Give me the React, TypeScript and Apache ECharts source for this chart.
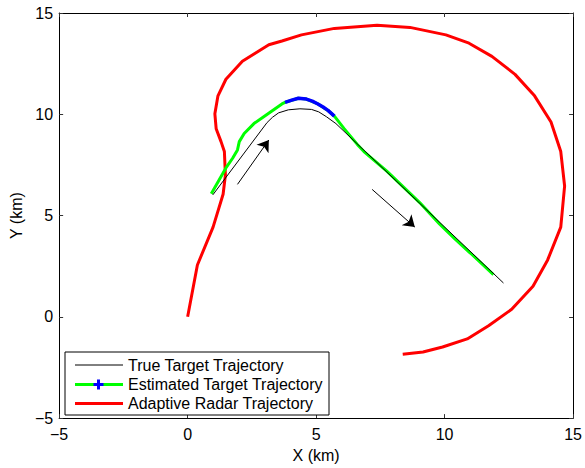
import React, { useEffect, useRef } from "react";
import * as echarts from "echarts";

// Adaptive radar trajectory (km)
const radarX = [0, 0.38, 0.99, 1.38, 1.47, 1.43, 1.3, 1.11, 1.06, 1.18, 1.49, 2.13, 3.16, 3.67, 4.43, 5.71, 7.37, 8.65, 10.05, 10.95, 11.84, 12.74, 13.5, 14.14, 14.52, 14.67, 14.52, 14.01, 13.44, 12.61, 11.71, 10.88, 9.92, 9.16, 8.37];
const radarY = [0, 2.56, 4.43, 6.05, 7.0, 8.16, 8.65, 9.29, 10.02, 10.91, 11.73, 12.62, 13.43, 13.62, 13.92, 14.24, 14.4, 14.29, 13.92, 13.51, 12.86, 11.97, 10.91, 9.62, 8.16, 6.46, 4.43, 2.81, 1.51, 0.37, -0.44, -1.09, -1.49, -1.74, -1.85];

// True target trajectory
const trueX = [0.98, 3.09, 3.3, 3.54, 3.92, 4.37, 4.82, 5.1, 5.4, 5.77, 12.29];
const trueY = [6.02, 9.59, 9.85, 10.07, 10.22, 10.27, 10.24, 10.12, 9.88, 9.54, 1.67];

// Estimated target trajectory (green parts)
const estX = [0.92, 1.49, 1.75, 1.94, 2.01, 2.2, 2.58, 3.03, 3.67, 3.79, 4.31, 4.62, 5.07, 5.46, 5.71, 6.09, 6.61, 6.86, 7.75, 9.03, 9.8, 10.4, 11.0, 11.9];
const estY = [6.08, 7.35, 7.83, 8.24, 8.65, 9.05, 9.54, 9.94, 10.51, 10.59, 10.79, 10.75, 10.51, 10.19, 9.91, 9.29, 8.5, 8.16, 7.19, 5.64, 4.59, 3.85, 3.15, 2.08];
// Estimated (blue '+' marked part)
const estBlueX = [3.79, 4.05, 4.31, 4.62, 4.85, 5.07, 5.27, 5.46, 5.71];
const estBlueY = [10.59, 10.7, 10.79, 10.75, 10.65, 10.51, 10.36, 10.19, 9.91];

// Direction arrows: [x1, y1, x2, y2]
const arrows = [
  [1.94, 6.54, 3.16, 8.73],
  [7.18, 6.29, 8.84, 4.43],
];

const ticks = [-5, 0, 5, 10, 15];
const legendLabels = ["True Target Trajectory", "Estimated Target Trajectory", "Adaptive Radar Trajectory"];

const zip = (xs: number[], ys: number[]) => xs.map((x, i) => [x, ys[i]]);
const FONT = "'Liberation Sans', Arial, Helvetica, sans-serif";

export default function App() {
  const ref = useRef<HTMLDivElement>(null);
  useEffect(() => {
    if (!ref.current) return;
    const chart = echarts.init(ref.current, null, { renderer: "svg" });
    const fmt = (v: number) => (v < 0 ? "\u2212" + Math.abs(v) : String(v));
    const axisCommon = {
      type: "value" as const,
      min: ticks[0],
      max: ticks[ticks.length - 1],
      interval: 5,
      splitLine: { show: false },
      axisLine: { show: true, onZero: false, lineStyle: { color: "#000", width: 1 } },
      axisTick: { show: true, inside: true, length: 4, lineStyle: { color: "#333" } },
    };
    const rowY = [365, 384.5, 403.5];
    const graphic: any[] = [
      {
        type: "rect",
        shape: { x: 65, y: 352, width: 264, height: 63 },
        style: { fill: "#fff", stroke: "#000", lineWidth: 1 },
        z: 100,
      },
      { type: "line", shape: { x1: 75, y1: rowY[0], x2: 123, y2: rowY[0] }, style: { stroke: "#000", lineWidth: 1 }, z: 101 },
      { type: "line", shape: { x1: 75, y1: rowY[1], x2: 123, y2: rowY[1] }, style: { stroke: "#00ff00", lineWidth: 3 }, z: 101 },
      { type: "rect", shape: { x: 93.5, y: rowY[1] - 1.5, width: 10, height: 3 }, style: { fill: "#0000ff" }, z: 102 },
      { type: "rect", shape: { x: 97, y: rowY[1] - 5, width: 3, height: 10 }, style: { fill: "#0000ff" }, z: 102 },
      { type: "line", shape: { x1: 75, y1: rowY[2], x2: 123, y2: rowY[2] }, style: { stroke: "#ff0000", lineWidth: 3 }, z: 101 },
      ...legendLabels.map((t, i) => ({
        type: "text",
        x: 128,
        y: rowY[i],
        z: 101,
        style: { text: t, fill: "#000", font: `16px ${FONT}`, textVerticalAlign: "middle", verticalAlign: "middle" },
      })),
    ];
    chart.setOption({
      animation: false,
      textStyle: { fontFamily: FONT },
      grid: { left: 54, right: 9, top: 13, bottom: 44, containLabel: false },
      xAxis: [
        {
          ...axisCommon,
          position: "bottom",
          name: "X (km)",
          nameLocation: "middle",
          nameGap: 24,
          nameTextStyle: { color: "#000", fontSize: 16, fontFamily: FONT },
          axisLabel: { color: "#000", fontSize: 16, margin: 8, formatter: fmt, fontFamily: FONT },
        },
        { ...axisCommon, position: "top", axisLabel: { show: false } },
      ],
      yAxis: [
        {
          ...axisCommon,
          position: "left",
          name: "Y (km)",
          nameLocation: "middle",
          nameGap: 34,
          nameTextStyle: { color: "#000", fontSize: 16, fontFamily: FONT },
          axisLabel: { color: "#000", fontSize: 16, margin: 6, formatter: fmt, fontFamily: FONT },
        },
        { ...axisCommon, position: "right", axisLabel: { show: false } },
      ],
      series: [
        {
          type: "line",
          data: zip(radarX, radarY),
          showSymbol: false,
          lineStyle: { color: "#ff0000", width: 3 },
          z: 3,
        },
        {
          type: "line",
          data: zip(estX, estY),
          showSymbol: false,
          lineStyle: { color: "#00ff00", width: 3 },
          z: 4,
        },
        {
          type: "line",
          data: zip(estBlueX, estBlueY),
          showSymbol: false,
          lineStyle: { color: "#0000ff", width: 3.5 },
          z: 5,
        },
        {
          type: "line",
          data: zip(trueX, trueY),
          showSymbol: false,
          lineStyle: { color: "#000", width: 1 },
          z: 6,
        },
        {
          type: "lines",
          coordinateSystem: "cartesian2d",
          symbol: ["none", "arrow"],
          symbolSize: 11,
          lineStyle: { color: "#000", width: 1, opacity: 1 },
          itemStyle: { color: "#000" },
          data: arrows.map((a) => ({ coords: [[a[0], a[1]], [a[2], a[3]]] })),
          z: 7,
        },
      ],
      graphic,
    });
    return () => chart.dispose();
  }, []);
  return <div ref={ref} style={{ position: "fixed", left: 0, top: 0, width: 585, height: 468, background: "#fff" }} />;
}
